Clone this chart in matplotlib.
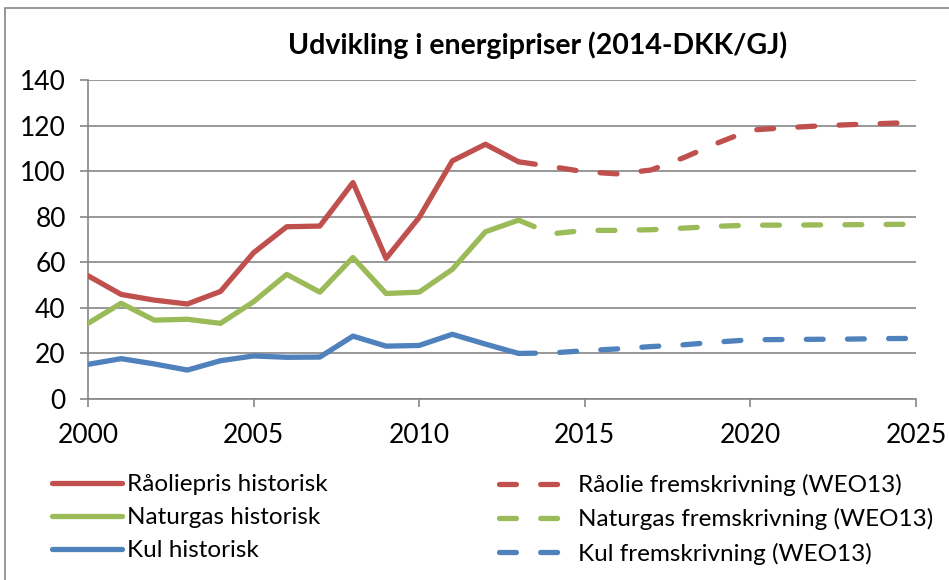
import matplotlib
matplotlib.use("Agg")
import matplotlib.pyplot as plt
from matplotlib.patches import Rectangle

plt.rcParams['font.family'] = ['Lato', 'DejaVu Sans']

# historic values 2000-2013
years_hist = list(range(2000, 2014))
olie_hist = [54.1, 45.9, 43.4, 41.7, 47.2, 64.2, 75.6, 75.9, 95.0, 61.7, 79.7, 104.5, 111.8, 104.1]
gas_hist = [33.2, 42.0, 34.6, 35.0, 33.2, 42.7, 54.7, 46.9, 62.1, 46.3, 46.9, 56.9, 73.4, 78.5]
kul_hist = [15.2, 17.7, 15.4, 12.7, 16.8, 18.9, 18.3, 18.4, 27.6, 23.2, 23.5, 28.4, 24.1, 20.0]

# WEO13 projections 2013-2025
years_proj = list(range(2013, 2026))
olie_proj = [104.1, 102.0, 99.7, 98.8, 100.5, 106.0, 112.3, 118.0, 119.0, 119.8, 120.4, 120.9, 121.4]
gas_proj = [78.5, 72.5, 74.0, 74.0, 74.3, 75.0, 75.8, 76.3, 76.3, 76.4, 76.5, 76.6, 76.7]
kul_proj = [20.0, 20.2, 21.2, 22.0, 23.0, 23.8, 25.0, 26.0, 26.1, 26.2, 26.3, 26.5, 26.6]

hist_labels = ['Råoliepris historisk', 'Naturgas historisk', 'Kul historisk']
proj_labels = ['Råolie fremskrivning (WEO13)', 'Naturgas fremskrivning (WEO13)',
               'Kul fremskrivning (WEO13)']
colors = ['#C0504D', '#9BBB59', '#4F81BD']

fig = plt.figure(figsize=(9.49, 5.80), dpi=100)
ax = fig.add_axes([88 / 949, 1 - 399 / 580, (916 - 88) / 949, (399 - 80) / 580])

# chart frame
fig.patches.append(Rectangle((5 / 949, -0.1), 1.2, 1 - 8 / 580 + 0.1, transform=fig.transFigure,
                             fill=False, edgecolor='#868686', linewidth=1.2))

lw = 3.8
hist_handles = []
proj_handles = []
for vals, c, lab in zip([olie_hist, gas_hist, kul_hist], colors, hist_labels):
    h, = ax.plot(years_hist, vals, color=c, lw=lw, solid_capstyle='round',
                 solid_joinstyle='round', label=lab, zorder=3)
    hist_handles.append(h)
for vals, c, lab in zip([olie_proj, gas_proj, kul_proj], colors, proj_labels):
    h, = ax.plot(years_proj, vals, color=c, lw=lw, dash_capstyle='round',
                 dash_joinstyle='round', dashes=(3.2, 4.6), label=lab, zorder=3)
    proj_handles.append(h)

ax.set_xlim(2000, 2025)
ax.set_ylim(0, 140)
ax.set_xticks(range(2000, 2026, 5))
ax.set_yticks(range(0, 141, 20))
ax.grid(axis='y', color='#868686', lw=1.2)
ax.set_axisbelow(True)
for s in ['top', 'right']:
    ax.spines[s].set_visible(False)
for s in ['left', 'bottom']:
    ax.spines[s].set_color('#868686')
    ax.spines[s].set_linewidth(1.2)
ax.tick_params(axis='both', direction='out', length=6, width=1.2, color='#868686',
               labelsize=19, labelcolor='black')
ax.tick_params(axis='x', pad=11)
ax.tick_params(axis='y', pad=10)

fig.text(538 / 949, 1 - 45 / 580, 'Udvikling i energipriser (2014-DKK/GJ)',
         ha='center', va='center', fontsize=20.5, fontweight='bold')

fig.legend(handles=hist_handles, loc='upper left', bbox_to_anchor=(52 / 949, 1 - 474 / 580),
           frameon=False, fontsize=17.5, handlelength=2.9, handletextpad=0.2,
           labelspacing=0.5, borderaxespad=0, borderpad=0)
fig.legend(handles=proj_handles, loc='upper left', bbox_to_anchor=(499 / 949, 1 - 474 / 580),
           frameon=False, fontsize=17.5, handlelength=2.5, handletextpad=0.75,
           labelspacing=0.5, borderaxespad=0, borderpad=0)

fig.savefig('out.png', dpi=100)
